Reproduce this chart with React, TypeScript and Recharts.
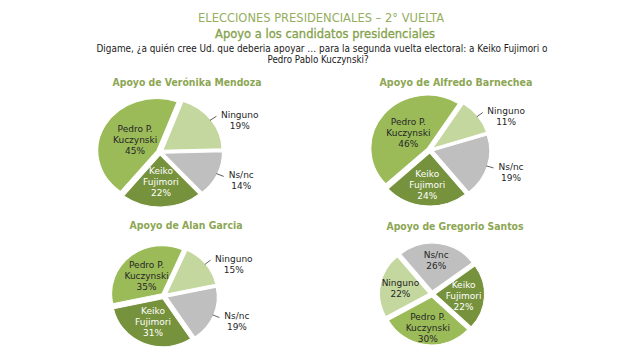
import React from 'react';
import { PieChart, Pie, Cell } from 'recharts';

const RADIAN = Math.PI / 180;
const EXPLODE = 3;
const BOX_W = 200;
const BOX_H = 150;
const LINE_H = 11;

const CATEGORIES = ['Ninguno', 'Ns/nc', 'Keiko\nFujimori', 'Pedro P.\nKuczynski'];
const MENDOZA = [19, 14, 22, 45];
const BARNECHEA = [11, 19, 24, 46];
const GARCIA = [15, 19, 31, 35];
const SANTOS = [22, 26, 22, 30];
const PIE_TITLES = [
  'Apoyo de Verónika Mendoza',
  'Apoyo de Alfredo Barnechea',
  'Apoyo de Alan Garcia',
  'Apoyo de Gregorio Santos',
];

const TITLE = 'ELECCIONES PRESIDENCIALES – 2° VUELTA';
const SUBTITLE = 'Apoyo a los candidatos presidenciales';
const QUESTION = [
  'Digame, ¿a quién cree Ud. que deberia apoyar … para la segunda vuelta electoral:  a Keiko Fujimori o',
  'Pedro Pablo Kuczynski?',
];

const COLORS = ['#C4D79E', '#BFBFBF', '#76923C', '#9BBB59'];
const LABEL_COLORS = ['#262626', '#262626', '#ffffff', '#262626'];
const GREEN = '#8CA653';
const FONT = 'DejaVu Sans';

// where each pie sits on the page; sx = horizontal stretch seen in the source image
const LAYOUT = [
  { values: MENDOZA, title: PIE_TITLES[0], cx: 160, cy: 152, r: 52, sx: 1.14, start: 20, outside: [true, true, false, false], f: [0, 0, 0.57, 0.48], tx: 187, ty: 82, tw: 149 },
  { values: BARNECHEA, title: PIE_TITLES[1], cx: 430, cy: 150, r: 53, sx: 1.07, start: 33, outside: [true, true, false, false], f: [0, 0, 0.66, 0.5], tx: 456, ty: 82, tw: 153 },
  { values: GARCIA, title: PIE_TITLES[2], cx: 164, cy: 296, r: 48, sx: 1.05, start: 24, outside: [true, true, false, false], f: [0, 0, 0.58, 0.55], tx: 186, ty: 225, tw: 113 },
  { values: SANTOS, title: PIE_TITLES[3], cx: 432, cy: 294, r: 48, sx: 1.03, start: 241, outside: [false, false, false, false], f: [0.65, 0.7, 0.64, 0.7], tx: 455, ty: 226, tw: 137 },
];

function renderLabel(props: any, cfg: any) {
  const { cx, cy, midAngle, outerRadius, value, index } = props;
  const s = cfg.sx;
  const lines = CATEGORIES[index].split('\n').concat(`${value}%`);
  const cos = Math.cos(-midAngle * RADIAN);
  const sin = Math.sin(-midAngle * RADIAN);
  const n = lines.length;
  const text = (x: number, y: number) => (
    <g transform={`translate(${x} ${y}) scale(${1 / s} 1)`}>
      <text textAnchor="middle" fontSize={9} fontFamily={FONT} fill={LABEL_COLORS[index]}>
        {lines.map((l, k) => (
          <tspan key={k} x={0} y={(k - (n - 1) / 2) * LINE_H + 3.3}>{l}</tspan>
        ))}
      </text>
    </g>
  );
  if (cfg.outside[index]) {
    const x1 = cx + (outerRadius + 2) * cos;
    const y1 = cy + (outerRadius + 2) * sin;
    const x2 = cx + (outerRadius + 9) * cos;
    const y2 = cy + (outerRadius + 9) * sin;
    const half = Math.max(...lines.map((l) => l.length)) * 2.9;
    return (
      <g>
        <line x1={x1} y1={y1} x2={x2} y2={y2} stroke="#404040" strokeWidth={0.8} />
        {text(x2 + (half + 3) / s, y2 + 4)}
      </g>
    );
  }
  const r = outerRadius * cfg.f[index];
  return text(cx + r * cos, cy + r * sin);
}

function SmallPie({ cfg }: any) {
  const rows = CATEGORIES.map((name, i) => ({ name, value: cfg.values[i] }));
  const total = cfg.values.reduce((a: number, b: number) => a + b, 0);
  const startAngle = 90 - cfg.start;
  const endAngle = startAngle - 360;
  let acc = 0;
  const slices = rows.map((row, i) => {
    const mid = startAngle - ((acc + row.value / 2) / total) * 360;
    acc += row.value;
    const dx = EXPLODE * Math.cos(mid * RADIAN);
    const dy = -EXPLODE * Math.sin(mid * RADIAN);
    return (
      <Pie
        key={i}
        data={rows}
        dataKey="value"
        nameKey="name"
        cx={BOX_W / 2 + dx}
        cy={BOX_H / 2 + dy}
        outerRadius={cfg.r}
        startAngle={startAngle}
        endAngle={endAngle}
        isAnimationActive={false}
        labelLine={false}
        label={false}
      >
        {rows.map((_, j) => (
          <Cell key={j} fill={j === i ? COLORS[j] : 'none'} stroke={j === i ? '#ffffff' : 'none'} strokeWidth={1} />
        ))}
      </Pie>
    );
  });
  return (
    <div
      style={{
        position: 'absolute',
        left: cfg.cx - (BOX_W / 2) * cfg.sx,
        top: cfg.cy - BOX_H / 2,
        transform: `scaleX(${cfg.sx})`,
        transformOrigin: '0 0',
      }}
    >
      <PieChart width={BOX_W} height={BOX_H} margin={{ top: 0, right: 0, bottom: 0, left: 0 }}>
        {slices}
        <Pie
          data={rows}
          dataKey="value"
          nameKey="name"
          cx={BOX_W / 2}
          cy={BOX_H / 2}
          outerRadius={cfg.r}
          startAngle={startAngle}
          endAngle={endAngle}
          isAnimationActive={false}
          labelLine={false}
          label={(p: any) => renderLabel(p, cfg)}
        >
          {rows.map((_, j) => (
            <Cell key={j} fill="none" stroke="none" />
          ))}
        </Pie>
      </PieChart>
    </div>
  );
}

function FitText({ x, y, w, size, fill, children, bold = false, stroke = false }: any) {
  return (
    <text
      x={x}
      y={y}
      textAnchor="middle"
      dominantBaseline="central"
      fontFamily={FONT}
      fontSize={size}
      fontWeight={bold ? 'bold' : 'normal'}
      fill={fill}
      stroke={stroke ? fill : 'none'}
      strokeWidth={stroke ? 0.35 : 0}
      textLength={w}
      lengthAdjust="spacingAndGlyphs"
    >
      {children}
    </text>
  );
}

export default function App() {
  return (
    <div style={{ position: 'absolute', left: 0, top: 0, width: 640, height: 357, background: '#fff', overflow: 'hidden' }}>
      {LAYOUT.map((cfg, i) => (
        <SmallPie key={i} cfg={cfg} />
      ))}
      <svg width={640} height={357} style={{ position: 'absolute', left: 0, top: 0, pointerEvents: 'none' }}>
        <FitText x={321} y={17} w={246} size={13} fill="#94AE5E">{TITLE}</FitText>
        <FitText x={325} y={33} w={220} size={13} fill="#86A24C" stroke>{SUBTITLE}</FitText>
        <FitText x={322} y={48} w={451} size={10} fill="#1a1a1a">{QUESTION[0]}</FitText>
        <FitText x={318} y={59} w={101} size={10} fill="#1a1a1a">{QUESTION[1]}</FitText>
        {LAYOUT.map((cfg, i) => (
          <FitText key={i} x={cfg.tx} y={cfg.ty} w={cfg.tw} size={11} fill={GREEN} bold>{cfg.title}</FitText>
        ))}
      </svg>
    </div>
  );
}
